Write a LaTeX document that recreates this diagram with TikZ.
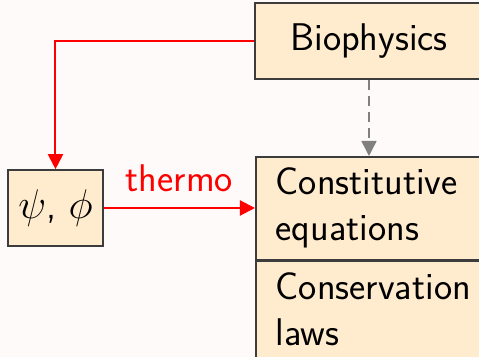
\documentclass[tikz,border=0pt]{standalone}
\usepackage{tikz}
\usetikzlibrary{arrows.meta,positioning}
\definecolor{pagebg}{HTML}{FDFAF9}
\definecolor{boxfill}{HTML}{FFEBCD}
\definecolor{boxline}{HTML}{3C3C3C}
\definecolor{linkred}{HTML}{FF0000}
\definecolor{hintgray}{HTML}{808080}

\begin{document}
\begin{tikzpicture}[x=0.5pt, y=-0.5pt, every node/.style={font=\sffamily\fontsize{19.3}{23}\selectfont},
    box/.style={draw=boxline, fill=boxfill, line width=0.8pt, inner sep=0pt},
    link/.style={linkred, line width=1pt, -{Triangle[length=7.5pt, width=7.5pt]}}]
  \fill[pagebg] (0,0) rectangle (479,357);
  \useasboundingbox (0,0) rectangle (479,357);
  \node[box, minimum width=114pt, minimum height=38pt] (bio) at (369,41) {Biophysics};
  \node[box, minimum width=47.5pt, minimum height=38pt] (pot) at (55.5,208) {$\psi$, $\phi$};
  \node[box, anchor=north west, text width=104pt, inner xsep=10pt, minimum height=51.5pt, align=left] (const) at (255,156) {Constitutive\\equations};
  \node[box, below=0pt of const, text width=104pt, inner xsep=10pt, minimum height=48pt, align=left] (cons) {Conservation\\laws};
  \draw[link] (bio.west) -| (pot.north);
  \draw[link] (pot.east) -- node[above, inner sep=7.5pt] (lbl) {thermo} (pot.east -| const.west);
  \draw[hintgray, line width=0.75pt, dash pattern=on 5pt off 3pt, -{Triangle[length=7.5pt, width=7.5pt]}] (bio.south) -- (bio.south |- const.north);
\end{tikzpicture}
\end{document}
